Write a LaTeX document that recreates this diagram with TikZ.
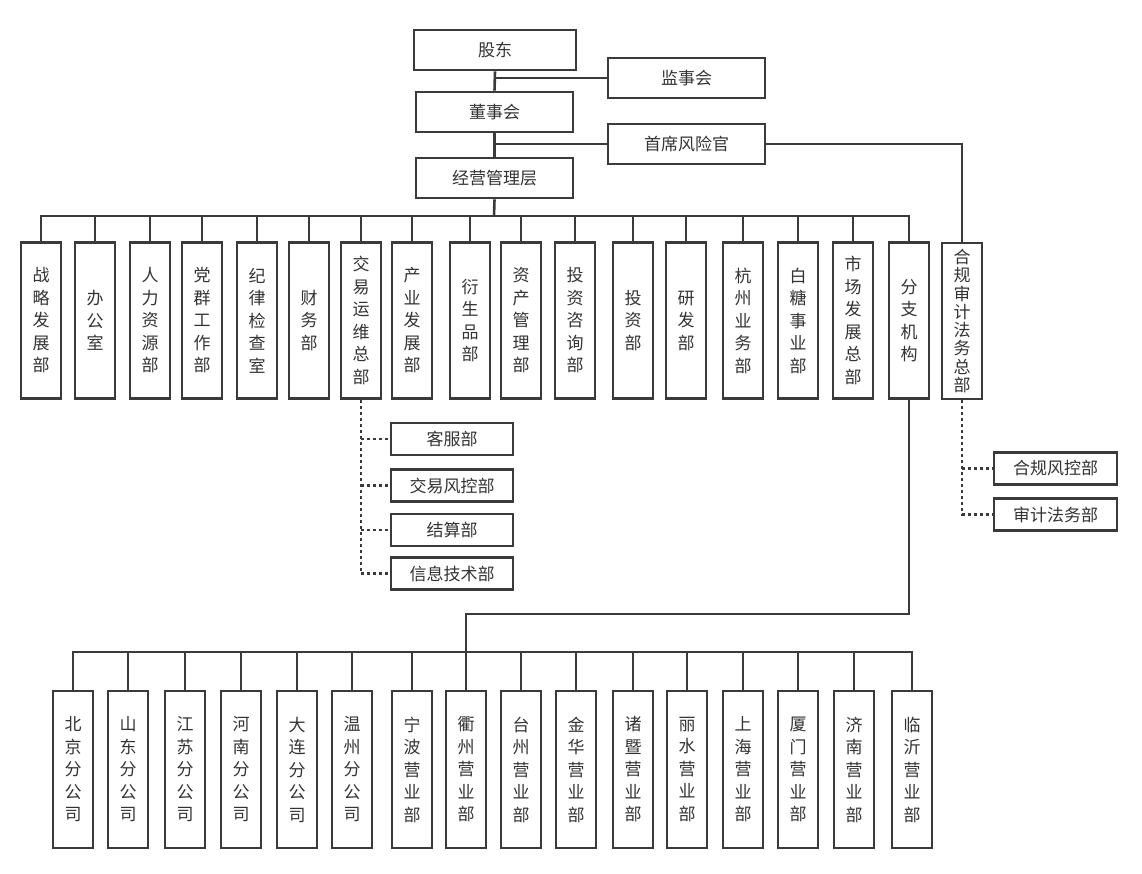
\documentclass[tikz,border=0pt]{standalone}
\usepackage{fontspec}
\setmainfont{Noto Sans CJK SC}
\definecolor{linegray}{HTML}{3A3A3A}
\definecolor{textgray}{HTML}{333333}
\tikzset{
    box/.style={draw=linegray, line width=2.6pt, fill=white, text=textgray,
        font=\fontsize{17}{22.5}\selectfont, inner sep=0pt, align=center},
    vbox/.style={box, minimum width=40pt, minimum height=156pt},
    hbox/.style={box, minimum width=157pt, minimum height=40pt},
    subbox/.style={box, minimum width=122pt, minimum height=32pt},
    link/.style={draw=linegray, line width=2.6pt},
    dotlink/.style={link, dash pattern=on 3pt off 3pt},
}
\begin{document}
\begin{tikzpicture}[x=1pt, y=-1pt]
            \fill[white] (0,0) rectangle (1142,873);

            % top of the tree
            \node[hbox, minimum width=162pt] (gudong) at (495,50) {股东};
            \node[hbox] (jianshi) at (686.5,78) {监事会};
            \node[hbox] (dongshi) at (494.5,112) {董事会};
            \node[hbox] (shouxi) at (686.5,144) {首席风险官};
            \node[hbox] (jingying) at (494.5,178) {经营管理层};

            \draw[link] (gudong.south) -- (dongshi.north);
            \draw[link] (dongshi.south) -- (jingying.north);
            \draw[link] (jianshi.west) -- (jianshi.west -| gudong.south);
            \draw[link] (shouxi.west) -- (shouxi.west -| dongshi.south);

            % departments
            \foreach \x/\t [count=\i] in {41/{战\\略\\发\\展\\部}, 95/{办\\公\\室},
                    150/{人\\力\\资\\源\\部}, 202/{党\\群\\工\\作\\部}, 257/{纪\\律\\检\\查\\室},
                    309/{财\\务\\部}, 361/{交\\易\\运\\维\\总\\部}, 412/{产\\业\\发\\展\\部},
                    470/{衍\\生\\品\\部}, 521/{资\\产\\管\\理\\部}, 575/{投\\资\\咨\\询\\部},
                    633/{投\\资\\部}, 686/{研\\发\\部}, 743/{杭\\州\\业\\务\\部},
                    798/{白\\糖\\事\\业\\部}, 853/{市\\场\\发\\展\\总\\部}, 909/{分\\支\\机\\构}}
                \node[vbox] (d\i) at (\x,320.5) {\t};
            \node[vbox, font=\fontsize{17}{18.3}\selectfont] (hegui) at (962,321)
                {合\\规\\审\\计\\法\\务\\总\\部};

            \coordinate (bus) at (494,216);
            \draw[link] (jingying.south) -- (bus);
            \draw[link] (d1.north) |- (bus) -| (d17.north);
            \foreach \i in {2,...,16}
                \draw[link] (d\i.north) -- (d\i.north |- bus);
            \draw[link] (shouxi.east) -| (hegui.north);

            % under the trading department
            \foreach \y/\t [count=\i] in {439/客服部, 485.5/交易风控部, 530/结算部, 573.5/信息技术部}
                \node[subbox] (s\i) at (452,\y) {\t};
            \draw[dotlink] (d7.south) |- (s4.west);
            \foreach \i in {1,2,3}
                \draw[dotlink] (s\i.west -| d7.south) -- (s\i.west);

            % under compliance
            \node[subbox, minimum width=123pt] (c1) at (1055.5,468.5) {合规风控部};
            \node[subbox, minimum width=123pt] (c2) at (1055.5,514.5) {审计法务部};
            \draw[dotlink] (hegui.south) |- (c2.west);
            \draw[dotlink] (c1.west -| hegui.south) -- (c1.west);

            % branches
            \foreach \x/\t [count=\i] in {73/{北\\京\\分\\公\\司}, 128/{山\\东\\分\\公\\司},
                    185/{江\\苏\\分\\公\\司}, 241/{河\\南\\分\\公\\司}, 297/{大\\连\\分\\公\\司},
                    352/{温\\州\\分\\公\\司}, 412/{宁\\波\\营\\业\\部}, 466/{衢\\州\\营\\业\\部},
                    521/{台\\州\\营\\业\\部}, 576/{金\\华\\营\\业\\部}, 633/{诸\\暨\\营\\业\\部},
                    687/{丽\\水\\营\\业\\部}, 743/{上\\海\\营\\业\\部}, 798/{厦\\门\\营\\业\\部},
                    854/{济\\南\\营\\业\\部}, 912/{临\\沂\\营\\业\\部}}
                \node[vbox, minimum height=157pt] (b\i) at (\x,769.5) {\t};

            \coordinate (turn) at (466,614);
            \coordinate (bus2) at (466,652);
            \draw[link] (d17.south) |- (turn) -- (bus2);
            \draw[link] (b1.north) |- (bus2) -| (b16.north);
            \foreach \i in {2,...,15}
                \draw[link] (b\i.north) -- (b\i.north |- bus2);
\end{tikzpicture}
\end{document}
